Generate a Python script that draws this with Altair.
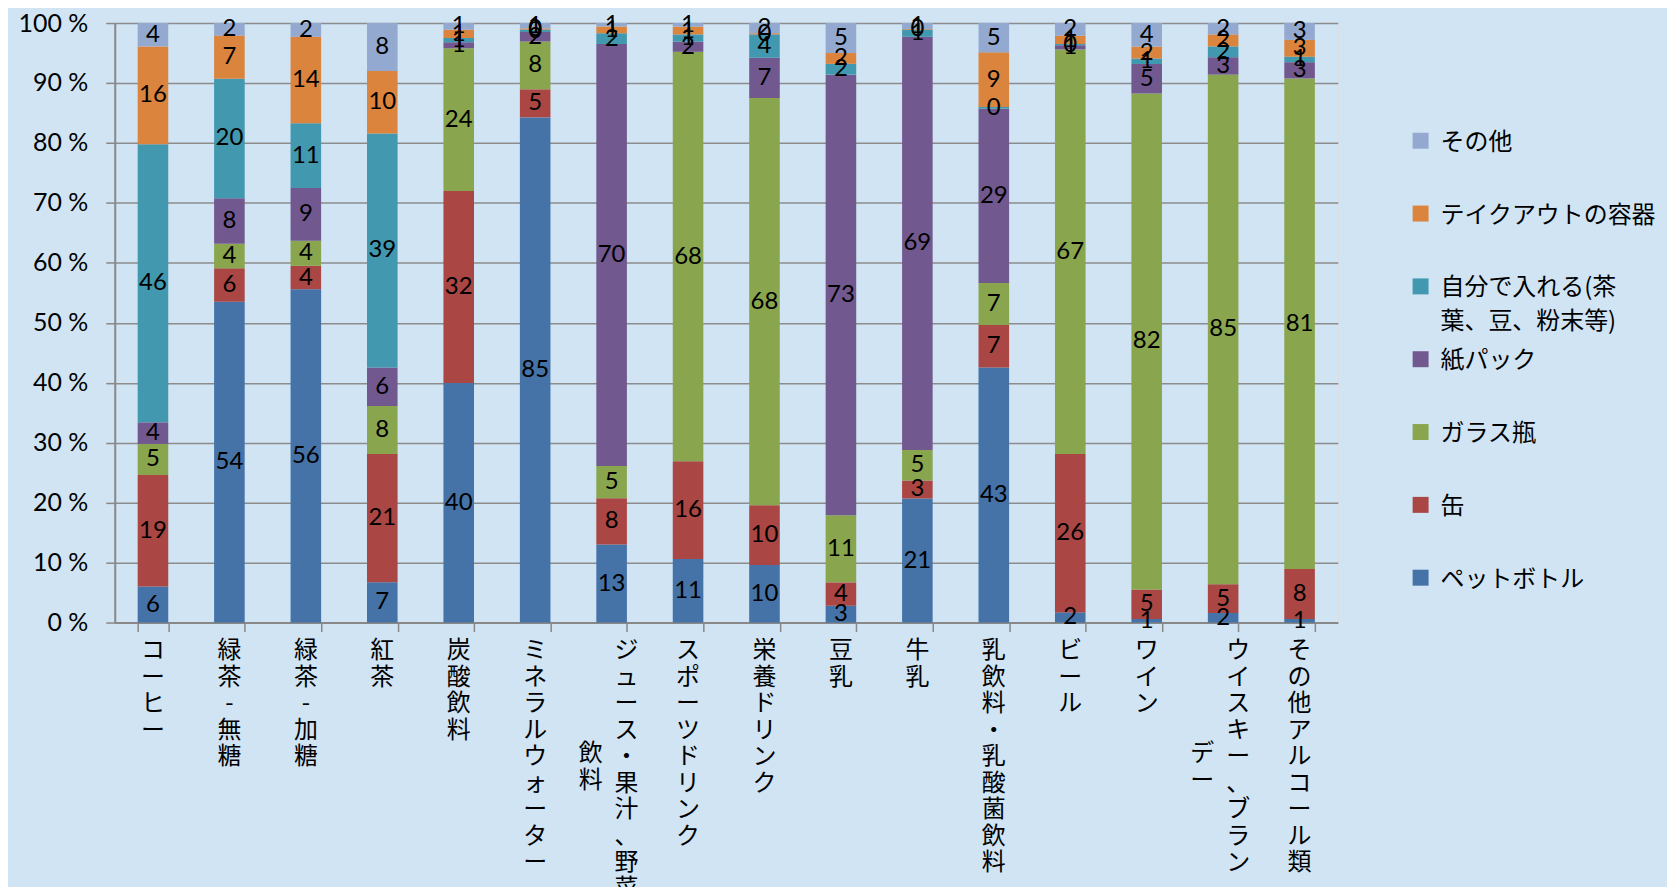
import altair as alt
import pandas as pd

categories = ["コーヒー", "緑茶-無糖", "緑茶-加糖", "紅茶", "炭酸飲料", "ミネラルウォーター",
              "ジュース・果汁、野菜飲料", "スポーツドリンク", "栄養ドリンク", "豆乳", "牛乳",
              "乳飲料・乳酸菌飲料", "ビール", "ワイン", "ウイスキー、ブランデー", "その他アルコール類"]
# vertical label columns (right column first, wrapped part second)
label_col1 = ["コーヒー", "緑茶-無糖", "緑茶-加糖", "紅茶", "炭酸飲料", "ミネラルウォーター",
              "ジュース・果汁、野菜", "スポーツドリンク", "栄養ドリンク", "豆乳", "牛乳",
              "乳飲料・乳酸菌飲料", "ビール", "ワイン", "ウイスキー、ブラン", "その他アルコール類"]
label_col2 = ["", "", "", "", "", "", "飲料", "", "", "", "", "", "", "", "デー", ""]

series = ["ペットボトル", "缶", "ガラス瓶", "紙パック", "自分で入れる(茶葉、豆、粉末等)", "テイクアウトの容器", "その他"]
colors = ["#4572A7", "#AA4643", "#89A54E", "#71588F", "#4198AF", "#DB843D", "#93A9CF"]

pet = [6.0, 53.6, 55.6, 6.7, 39.9, 84.6, 13.0, 10.6, 9.6, 2.8, 20.7, 42.6, 1.7, 0.6, 1.6, 0.6]
can = [18.6, 5.6, 3.9, 21.4, 32.0, 4.7, 7.7, 16.3, 10.0, 3.9, 3.0, 7.1, 26.4, 4.9, 4.8, 8.3]
glass = [5.2, 4.1, 4.2, 8.0, 23.8, 8.0, 5.4, 68.3, 68.0, 11.2, 5.1, 7.0, 67.4, 82.4, 85.0, 81.4]
paper = [3.6, 7.6, 8.8, 6.4, 1.0, 1.6, 70.3, 1.7, 6.7, 73.4, 68.9, 29.1, 0.7, 4.9, 2.9, 2.7]
selfbrew = [46.4, 20.0, 10.8, 39.0, 0.7, 0.4, 1.8, 1.2, 3.9, 1.8, 1.2, 0.3, 0.2, 0.9, 1.8, 0.9]
takeout = [16.3, 7.2, 14.4, 10.4, 1.4, 0.2, 1.1, 1.3, 0.2, 1.8, 0.1, 9.1, 1.4, 2.0, 2.0, 2.8]
other = [3.9, 2.1, 2.3, 8.0, 1.1, 0.9, 0.6, 0.6, 1.7, 5.0, 1.0, 4.9, 2.1, 3.9, 1.9, 2.8]

y_ticks = [0, 0.1, 0.2, 0.3, 0.4, 0.5, 0.6, 0.7, 0.8, 0.9, 1.0]

rows = []
for s_i, (name, vals) in enumerate(zip(series, [pet, can, glass, paper, selfbrew, takeout, other])):
    for cat, v in zip(categories, vals):
        rows.append({"cat": cat, "series": name, "order": s_i, "value": v})
df = pd.DataFrame(rows)

lab = pd.DataFrame({
    "cat": categories,
    "c1": ["\n".join(list(s)) for s in label_col1],
    "c2": ["\n".join(list(s)) for s in label_col2],
})

W, H = 1226, 601
JP = "Noto Sans CJK JP"
NUM = "Lato"
LABEL_DY = 9

x_axis = alt.Axis(title=None, labels=False, ticks=True, tickBand="extent", tickSize=9,
                  tickColor="#888888", tickWidth=1.5, domainColor="#888888", domainWidth=2,
                  grid=False)
x_enc = alt.X("cat:N", scale=alt.Scale(domain=categories, paddingInner=0.6, paddingOuter=0.3),
              axis=x_axis)
y_axis = alt.Axis(title=None, values=y_ticks, labelExpr="round(datum.value*100) + ' %'",
                  labelFont=NUM, labelFontSize=25, labelColor="#000000", labelPadding=18,
                  labelOffset=-LABEL_DY,
                  tickSize=9, tickColor="#888888", tickWidth=1.5, domainColor="#888888",
                  domainWidth=2, gridColor="#8C8C8C", gridWidth=1.5)
y_scale = alt.Scale(domain=[0, 1])

legend_order = list(reversed(series))
legend_colors = list(reversed(colors))

base = alt.Chart(df).transform_stack(
    stack="value", groupby=["cat"], as_=["y0", "y1"], offset="normalize",
    sort=[alt.SortField("order", order="ascending")]
).transform_calculate(mid="(datum.y0 + datum.y1) / 2")

bars = base.mark_bar().encode(
    x=x_enc,
    y=alt.Y("y0:Q", scale=y_scale, axis=y_axis),
    y2="y1:Q",
    color=alt.Color("series:N",
                    scale=alt.Scale(domain=legend_order, range=legend_colors),
                    legend=alt.Legend(
                        title=None, orient="none", legendX=1297, legendY=106,
                        symbolType="square", symbolSize=256, symbolStrokeWidth=0,
                        labelFont=JP, labelFontSize=24, labelColor="#000000",
                        labelOffset=8, labelLimit=400, padding=0,
                        gridAlign="all", rowPadding=13, labelBaseline="alphabetic",
                        labelExpr="datum.label == '自分で入れる(茶葉、豆、粉末等)' ? ['自分で入れる(茶', '葉、豆、粉末等)'] : datum.label",
                    )),
)

values_text = base.mark_text(font=NUM, fontSize=24, color="#000000").encode(
    x=x_enc,
    y=alt.Y("mid:Q", scale=y_scale, axis=y_axis),
    text=alt.Text("value:Q", format=".0f"),
)

lab_base = alt.Chart(lab)
single = lab_base.transform_filter("datum.c2 == ''").mark_text(
    font=JP, fontSize=24, lineHeight=26.5, baseline="top", lineBreak="\n", color="#000000"
).encode(x=x_enc, y=alt.value(H + 17), text="c1:N")
double1 = lab_base.transform_filter("datum.c2 != ''").mark_text(
    font=JP, fontSize=24, lineHeight=26.5, baseline="top", lineBreak="\n", color="#000000", dx=15
).encode(x=x_enc, y=alt.value(H + 17), text="c1:N")
double2 = lab_base.transform_filter("datum.c2 != ''").mark_text(
    font=JP, fontSize=24, lineHeight=26.5, baseline="top", lineBreak="\n", color="#000000", dx=-21
).encode(x=x_enc, y=alt.value(H + 17 + 103), text="c2:N")

chart = alt.layer(bars, values_text, single, double1, double2).properties(
    width=W, height=H,
    autosize=alt.AutoSizeParams(type="none"),
    padding={"left": 107, "top": 14, "right": 330, "bottom": 264},
    background="#D0E4F4",
).configure_view(fill="#F2F2F2", stroke="#000000", strokeWidth=2
).configure(style={"guide-label": {"dy": LABEL_DY, "lineHeight": 34}})

chart.save("out.html", embed_options={"renderer": "svg", "actions": False})
